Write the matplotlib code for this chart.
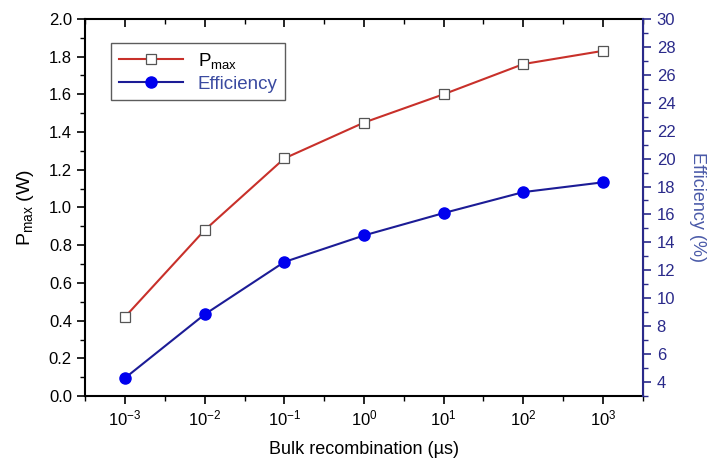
import numpy as np
import matplotlib
matplotlib.use('Agg')
import matplotlib.pyplot as plt
from matplotlib.ticker import FixedLocator, NullFormatter

# data
tau = [1e-3, 1e-2, 1e-1, 1e0, 1e1, 1e2, 1e3]
tick_labels = ['$10^{-3}$', '$10^{-2}$', '$10^{-1}$', '$10^{0}$', '$10^{1}$', '$10^{2}$', '$10^{3}$']
pmax = [0.42, 0.88, 1.26, 1.45, 1.60, 1.76, 1.83]
efficiency = [4.3, 8.85, 12.6, 14.5, 16.1, 17.6, 18.3]

red = '#c8302a'
navy = '#1c1c96'
axblue = '#2a2a8a'

plt.rcParams['font.family'] = ['Liberation Sans', 'DejaVu Sans']
plt.rcParams['mathtext.fontset'] = 'custom'
plt.rcParams['mathtext.rm'] = 'Liberation Sans'
plt.rcParams['mathtext.it'] = 'Liberation Sans'

fig = plt.figure(figsize=(7.28, 4.58), dpi=100)
ax = fig.add_axes([0.117, 0.135, 0.766, 0.824])
ax2 = ax.twinx()

l1, = ax.plot(tau, pmax, '-s', color=red, lw=1.5, ms=7, mfc='white', mec='#555555', mew=0.9)
l2, = ax2.plot(tau, efficiency, '-o', color=navy, lw=1.5, ms=8, mfc='#0000ee', mec='#0000ee')

ax.set_xscale('log')
ax.set_xlim(10 ** -3.5, 10 ** 3.5)
ax.xaxis.set_major_locator(FixedLocator(tau))
ax.xaxis.set_minor_locator(FixedLocator([10 ** (e + 0.5) for e in range(-4, 4)]))
ax.set_xticklabels(tick_labels)
ax.xaxis.set_minor_formatter(NullFormatter())

ax.set_ylim(0, 2.0)
ax.set_yticks(np.arange(0, 2.01, 0.2))
ax.set_yticks(np.arange(0.1, 2.0, 0.2), minor=True)
ax.set_yticklabels(['%.1f' % v for v in np.arange(0, 2.01, 0.2)])

ax2.set_ylim(3, 30)
ax2.set_yticks(range(4, 31, 2))
ax2.set_yticks(range(3, 30, 2), minor=True)

ax.tick_params(axis='both', which='major', direction='out', length=6, width=1.2, labelsize=12, top=False)
ax.tick_params(axis='both', which='minor', direction='out', length=3.5, width=1.0)
ax.tick_params(axis='x', pad=3)
ax2.tick_params(axis='y', which='major', direction='out', length=6, width=1.2, colors=axblue, labelsize=12, pad=4)
ax2.tick_params(axis='y', which='minor', direction='out', length=3.5, width=1.0, colors=axblue)

# inward ticks along the top spine
top = ax.secondary_xaxis('top')
top.xaxis.set_major_locator(FixedLocator(tau))
top.xaxis.set_minor_locator(FixedLocator([10 ** (e + 0.5) for e in range(-4, 4)]))
top.tick_params(which='major', direction='in', length=6, width=1.2, labeltop=False)
top.tick_params(which='minor', direction='in', length=3.5, width=1.0)
top.xaxis.set_minor_formatter(NullFormatter())
top.spines['top'].set_linewidth(1.2)

for s in ['left', 'bottom', 'top']:
    ax.spines[s].set_linewidth(1.5)
ax2.spines['right'].set_color(axblue)
ax2.spines['right'].set_linewidth(1.5)
for s in ['left', 'bottom', 'top']:
    ax2.spines[s].set_visible(False)

ax.set_ylabel('P$_{\\mathrm{max}}$ (W)', fontsize=14, labelpad=9)
ax.set_xlabel('Bulk recombination (\u00b5s)', fontsize=13, labelpad=9)
ax2.set_ylabel('Efficiency (%)', fontsize=13, color='#4a5aa8', rotation=270, labelpad=22)

leg = ax.legend([l1, l2], ['P$_{\\mathrm{max}}$', 'Efficiency'], loc='upper left',
                bbox_to_anchor=(0.03, 0.96), fontsize=13.5, frameon=True, fancybox=False,
                edgecolor='#333333', handlelength=3.4, borderpad=0.4, labelspacing=0.25)
leg.get_frame().set_linewidth(1.0)
leg.get_texts()[1].set_color('#3a4aa0')

fig.savefig('out.png', dpi=100)
